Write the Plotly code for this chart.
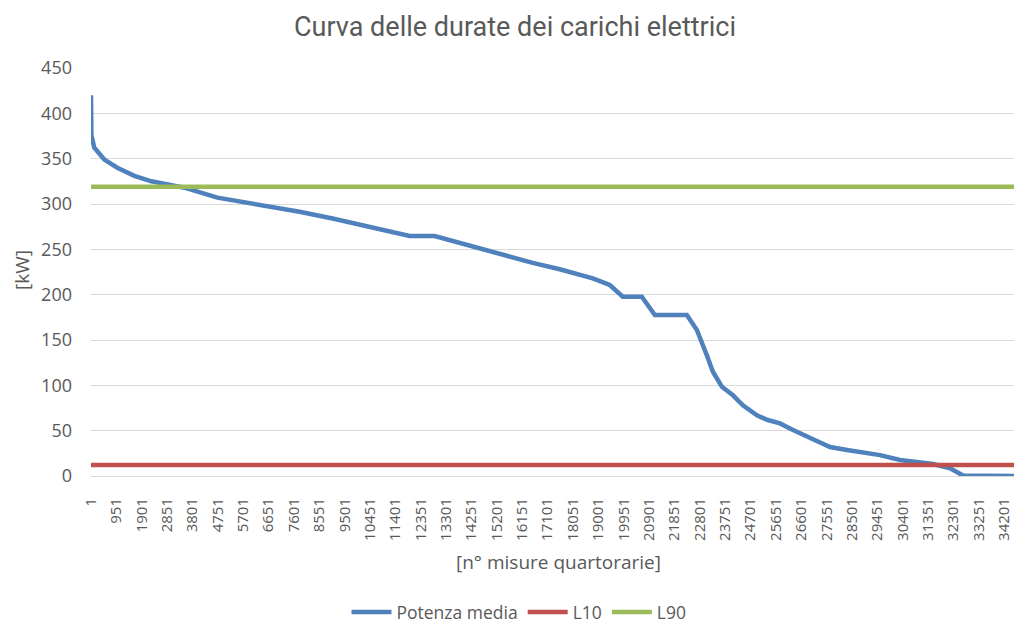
import plotly.graph_objects as go

# --- data ---
n_total = 35040  # quarter-hour measurements in a year
misura = [1, 15, 125, 500, 987, 1624, 2261, 2861, 3498, 4735, 6009, 7811, 9048,
          10322, 11934, 12871, 14071, 15307, 16544, 17556, 18193, 18793, 19430,
          19917, 20630, 21117, 22316, 22691, 23066, 23291, 23629, 24041, 24416,
          24941, 25316, 25803, 26291, 26815, 27302, 27677, 28315, 28802, 29552,
          30301, 31538, 32175, 32662, 35040]
potenza_media = [420, 376, 362, 349, 340, 331, 325, 321, 318, 307, 301, 291.5, 284,
                 275, 264.7, 264.7, 254.8, 244.8, 235, 228, 223.5, 218, 210.7,
                 197.8, 197.8, 177.6, 177.6, 161, 133, 115, 98.5, 89, 78,
                 67, 62, 58, 50.7, 43.4, 36, 32, 28.7, 26.8, 23,
                 17.6, 13.2, 8.4, 0.5, 0]
L10 = 12
L90 = 319

tick_step = 950
tick_vals = list(range(1, 34202, tick_step))
tick_text = [str(v) for v in tick_vals]
y_ticks = list(range(0, 451, 50))

BLUE = "#4F81BD"
RED = "#C0504D"
GREEN = "#9BBB59"
GRAY = "#595959"
FONT = "Open Sans"

fig = go.Figure()
fig.add_trace(go.Scatter(x=misura, y=potenza_media, mode="lines", name="Potenza media",
                         line=dict(color=BLUE, width=4.5)))
fig.add_trace(go.Scatter(x=[1, n_total], y=[L10, L10], mode="lines", name="L10",
                         line=dict(color=RED, width=4.5)))
fig.add_trace(go.Scatter(x=[1, n_total], y=[L90, L90], mode="lines", name="L90",
                         line=dict(color=GREEN, width=4.5)))

# page has an 8px body margin; figure is placed at (8, 8)
OFF = 8
W, H = 1022 - OFF, 630 - OFF
PLOT_L, PLOT_R, PLOT_T, PLOT_B = 91 - OFF, 1021 - OFF, 68 - OFF, 476 - OFF
pw, ph = PLOT_R - PLOT_L, PLOT_B - PLOT_T

fig.update_layout(
    width=W, height=H,
    paper_bgcolor="white", plot_bgcolor="white",
    margin=dict(l=PLOT_L, r=W - PLOT_R, t=PLOT_T, b=H - PLOT_B),
    font=dict(family=FONT, color=GRAY, size=16),
    title=dict(text="Curva delle durate dei carichi elettrici", x=(515 - OFF) / W, xanchor="center",
               y=1 - (27 - OFF) / H, yanchor="middle", yref="container",
               font=dict(family="Roboto", size=27, color=GRAY)),
    showlegend=True,
    legend=dict(orientation="h", xref="container", yref="container",
                x=(519 - OFF) / W, xanchor="center", y=0, yanchor="bottom",
                font=dict(size=17.5, color=GRAY), itemwidth=40, traceorder="normal"),
    annotations=[
        dict(text="[n° misure quartorarie]", xref="paper", yref="paper",
             x=(558 - 91) / pw, y=(476 - 562) / ph, xanchor="center", yanchor="middle",
             showarrow=False, font=dict(size=19, color=GRAY)),
        dict(text="[kW]", xref="paper", yref="paper",
             x=(22 - 91) / pw, y=(476 - 270) / ph, xanchor="center", yanchor="middle",
             textangle=-90, showarrow=False, font=dict(size=19, color=GRAY)),
    ],
)

fig.update_xaxes(range=[1, 34830], tickmode="array", tickvals=tick_vals, ticktext=tick_text,
                 tickangle=-90, showgrid=False, zeroline=False, showline=False,
                 ticks="", ticklabelstandoff=18, tickfont=dict(size=15, color=GRAY))
fig.update_yaxes(range=[0, 450], tickmode="array", tickvals=y_ticks,
                 showgrid=True, gridcolor="#D9D9D9", gridwidth=1,
                 zeroline=True, zerolinecolor="#D9D9D9", zerolinewidth=1,
                 showline=False, ticks="", ticklabelstandoff=18,
                 tickfont=dict(size=18, color=GRAY))

fig.write_html("out.html")
